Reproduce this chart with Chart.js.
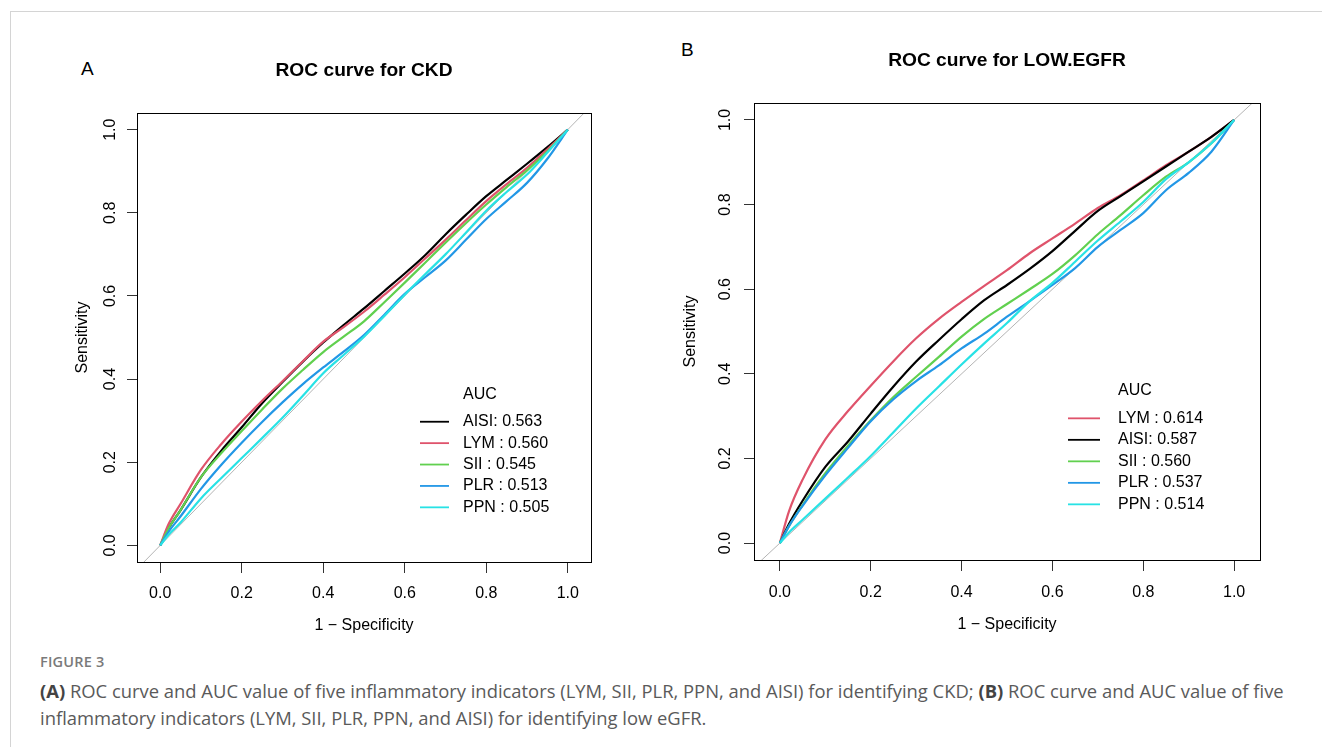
<!DOCTYPE html>
<html>
<head>
<meta charset="utf-8">
<script src="https://cdn.jsdelivr.net/npm/chart.js@4.4.1/dist/chart.umd.min.js"></script>
<style>
  body { margin: 0; background: #fff; width: 1322px; height: 747px; overflow: hidden; position: relative; }
  .frame { position: absolute; left: 10px; top: 11px; right: 0; bottom: 0; border-top: 1.5px solid #d4d4d4; border-left: 1.5px solid #d4d4d4; }
  canvas { position: absolute; }
  .panel-letter { position: absolute; font-family: "Liberation Sans", Arial, sans-serif; font-size: 19px; color: #000; }
  .fig-label { position: absolute; left: 40px; top: 652px; font-family: "Open Sans", sans-serif; font-size: 14.5px; font-weight: 600; color: #7a7a7a; letter-spacing: 0.2px; }
  .caption { position: absolute; left: 40px; top: 677px; font-family: "Open Sans", sans-serif; font-size: 18.4px; line-height: 27px; color: #5a5a5a; white-space: nowrap; }
  .caption b { color: #444; }
</style>
</head>
<body>
<div class="frame"></div>
<div class="panel-letter" style="left:81px; top:58px;">A</div>
<div class="panel-letter" style="left:681px; top:39px;">B</div>
<canvas id="rocA" width="640" height="620" style="left:20px; top:20px;"></canvas>
<canvas id="rocB" width="640" height="620" style="left:670px; top:20px;"></canvas>
<div class="fig-label">FIGURE 3</div>
<div class="caption"><b>(A)</b> ROC curve and AUC value of five inflammatory indicators (LYM, SII, PLR, PPN, and AISI) for identifying CKD; <b>(B)</b> ROC curve and AUC value of five<br>inflammatory indicators (LYM, SII, PLR, PPN, and AISI) for identifying low eGFR.</div>

<script>
// 1 - specificity grid the curves were read at
const fprGrid = [0, 0.02, 0.05, 0.1, 0.15, 0.2, 0.25, 0.3, 0.35, 0.4, 0.45, 0.5, 0.55, 0.6, 0.65, 0.7, 0.75, 0.8, 0.85, 0.9, 0.95, 1];
const tickValues = [0, 0.2, 0.4, 0.6, 0.8, 1];
const identityLine = [-0.1, 1.1];

// Panel A - CKD (sensitivity)
const ckdNames = ['AISI', 'LYM', 'SII', 'PLR', 'PPN'];
const ckdAUC = [0.563, 0.560, 0.545, 0.513, 0.505];
const ckdAISI = [0, 0.04, 0.085, 0.164, 0.228, 0.284, 0.342, 0.393, 0.442, 0.488, 0.53, 0.57, 0.612, 0.654, 0.698, 0.748, 0.795, 0.84, 0.879, 0.918, 0.958, 1];
const ckdLYM = [0, 0.05, 0.10, 0.182, 0.244, 0.298, 0.348, 0.395, 0.443, 0.49, 0.525, 0.562, 0.603, 0.645, 0.69, 0.735, 0.782, 0.828, 0.869, 0.908, 0.953, 1];
const ckdSII = [0, 0.04, 0.085, 0.164, 0.222, 0.275, 0.327, 0.377, 0.422, 0.465, 0.502, 0.539, 0.585, 0.632, 0.68, 0.728, 0.775, 0.82, 0.862, 0.902, 0.948, 1];
const ckdPLR = [0, 0.032, 0.07, 0.136, 0.194, 0.247, 0.297, 0.344, 0.388, 0.428, 0.466, 0.506, 0.555, 0.605, 0.645, 0.685, 0.735, 0.785, 0.828, 0.872, 0.93, 1];
const ckdPPN = [0, 0.025, 0.055, 0.113, 0.162, 0.21, 0.258, 0.307, 0.36, 0.414, 0.458, 0.502, 0.552, 0.603, 0.652, 0.70, 0.752, 0.805, 0.85, 0.892, 0.945, 1];

// Panel B - low eGFR (sensitivity)
const egfrNames = ['LYM', 'AISI', 'SII', 'PLR', 'PPN'];
const egfrAUC = [0.614, 0.587, 0.560, 0.537, 0.514];
const egfrLYM = [0, 0.075, 0.15, 0.245, 0.312, 0.372, 0.43, 0.484, 0.53, 0.57, 0.608, 0.645, 0.685, 0.72, 0.755, 0.792, 0.822, 0.857, 0.893, 0.925, 0.96, 1];
const egfrAISI = [0, 0.045, 0.1, 0.18, 0.24, 0.306, 0.37, 0.429, 0.48, 0.529, 0.574, 0.61, 0.648, 0.69, 0.738, 0.785, 0.82, 0.855, 0.89, 0.925, 0.96, 1];
const egfrSII = [0, 0.04, 0.09, 0.165, 0.23, 0.29, 0.345, 0.393, 0.44, 0.488, 0.53, 0.565, 0.6, 0.636, 0.68, 0.73, 0.775, 0.822, 0.866, 0.9, 0.945, 1];
const egfrPLR = [0, 0.04, 0.088, 0.16, 0.225, 0.288, 0.34, 0.383, 0.42, 0.46, 0.495, 0.535, 0.572, 0.61, 0.65, 0.70, 0.74, 0.78, 0.834, 0.875, 0.925, 1];
const egfrPPN = [0, 0.025, 0.055, 0.105, 0.155, 0.206, 0.262, 0.318, 0.37, 0.422, 0.472, 0.52, 0.572, 0.615, 0.665, 0.715, 0.76, 0.806, 0.86, 0.9, 0.945, 1];

const markerColors = { AISI: '#000000', LYM: '#DF536B', SII: '#61D04F', PLR: '#2297E6', PPN: '#28E2E5' };
const FONT = '"Liberation Sans", Arial, sans-serif';

// box around the plot region + AUC legend drawn inside it
const rocDecor = {
    id: 'rocDecor',
    afterDraw(chart, args, opts) {
        const ctx = chart.ctx;
        const a = chart.chartArea;
        ctx.save();
        ctx.strokeStyle = '#000';
        ctx.lineWidth = 1;
        ctx.strokeRect(Math.round(a.left) + 0.5, Math.round(a.top) + 0.5, Math.round(a.right - a.left), Math.round(a.bottom - a.top));

        ctx.font = '16px ' + FONT;
        ctx.fillStyle = '#000';
        ctx.textBaseline = 'middle';
        ctx.textAlign = 'left';
        ctx.fillText('AUC', a.left + opts.textX, a.top + opts.titleY);
        opts.names.forEach((name, i) => {
            const y = a.top + opts.rowY + i * opts.rowGap;
            ctx.strokeStyle = markerColors[name];
            ctx.lineWidth = 1.8;
            ctx.beginPath();
            ctx.moveTo(a.left + opts.lineX0, y);
            ctx.lineTo(a.left + opts.lineX1, y);
            ctx.stroke();
            ctx.fillText(name.padEnd(4, ' ') + ': ' + opts.aucs[i].toFixed(3), a.left + opts.textX, y);
        });
        ctx.restore();
    }
};

function makeRoc(canvasId, title, names, aucs, series, layout) {
    const datasets = names.map((name, i) => ({
        label: name,
        data: fprGrid.map((x, k) => ({ x, y: series[i][k] })),
        borderColor: markerColors[name],
        borderWidth: 2.2,
        pointRadius: 0,
        showLine: true,
        fill: false,
        cubicInterpolationMode: 'monotone',
        order: names.length - i
    }));
    datasets.push({
        label: 'identity',
        data: identityLine.map(v => ({ x: v, y: v })),
        borderColor: '#b4b4b4',
        borderWidth: 1,
        pointRadius: 0,
        showLine: true,
        order: 100
    });

    const tickFont = { family: FONT, size: 16 };
    const keepTicks = scale => { scale.ticks = tickValues.map(v => ({ value: v })); };

    new Chart(document.getElementById(canvasId), {
        type: 'scatter',
        data: { datasets },
        plugins: [rocDecor],
        options: {
            responsive: false,
            animation: false,
            events: [],
            layout: { padding: layout.padding },
            plugins: {
                legend: { display: false },
                tooltip: { enabled: false },
                title: {
                    display: true,
                    text: title,
                    fullSize: false,
                    color: '#000',
                    font: { family: FONT, size: 19.2, weight: 'bold' },
                    padding: { top: 19.5, bottom: 30.5 }
                },
                rocDecor: layout.legend
            },
            scales: {
                x: {
                    type: 'linear',
                    min: -0.057,
                    max: 1.057,
                    afterBuildTicks: keepTicks,
                    afterFit: s => { s.height = 75; },
                    border: { display: false },
                    grid: { drawOnChartArea: false, drawTicks: true, tickLength: 11, tickColor: '#333', color: '#333' },
                    ticks: { color: '#000', font: tickFont, padding: layout.xTickPad, maxRotation: 0, autoSkip: false, callback: v => v.toFixed(1) },
                    title: { display: true, text: '1 \u2212 Specificity', color: '#000', font: tickFont, padding: { top: 0, bottom: layout.xTitlePad } }
                },
                y: {
                    type: 'linear',
                    min: -0.04,
                    max: 1.04,
                    afterBuildTicks: keepTicks,
                    afterFit: s => { s.width = layout.yWidth; },
                    border: { display: false },
                    grid: { drawOnChartArea: false, drawTicks: true, tickLength: 10, tickColor: '#333', color: '#333' },
                    ticks: { color: '#000', font: tickFont, padding: layout.yTickPad, minRotation: 90, maxRotation: 90, crossAlign: 'center', autoSkip: false, callback: v => v.toFixed(1) },
                    title: { display: true, text: 'Sensitivity', color: '#000', font: tickFont, padding: { top: layout.yTitlePad, bottom: 0 } }
                }
            }
        }
    });
}

makeRoc('rocA', 'ROC curve for CKD', ckdNames, ckdAUC,
    [ckdAISI, ckdLYM, ckdSII, ckdPLR, ckdPPN],
    {
        padding: { left: 47, right: 69, top: 20, bottom: 3 },
        yWidth: 70, yTitlePad: 6.4, xTitlePad: 1.4, xTickPad: 11, yTickPad: 5,
        legend: { names: ckdNames, aucs: ckdAUC, lineX0: 283, lineX1: 312, textX: 326, titleY: 282, rowY: 308.7, rowGap: 21.4 }
    });

makeRoc('rocB', 'ROC curve for LOW.EGFR', egfrNames, egfrAUC,
    [egfrLYM, egfrAISI, egfrSII, egfrPLR, egfrPPN],
    {
        padding: { left: 8, right: 50, top: 10, bottom: 5 },
        yWidth: 76, yTitlePad: 3.4, xTitlePad: 0.4, xTickPad: 12, yTickPad: 7,
        legend: { names: egfrNames, aucs: egfrAUC, lineX0: 314, lineX1: 346, textX: 364, titleY: 287.7, rowY: 315.3, rowGap: 21.5 }
    });
</script>
</body>
</html>
